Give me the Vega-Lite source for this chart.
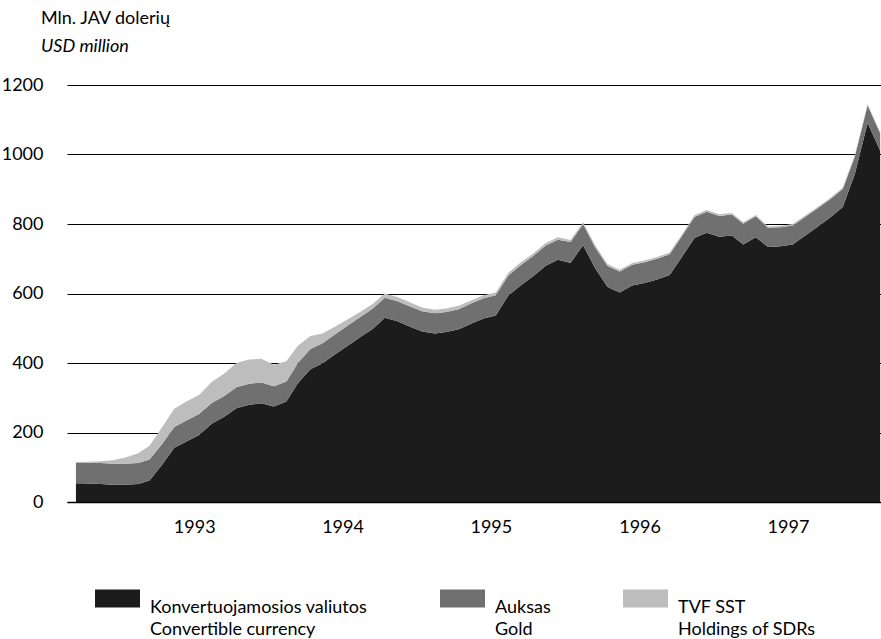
{
  "$schema": "https://vega.github.io/schema/vega-lite/v6.json",
  "width": 814,
  "height": 417,
  "autosize": {"type": "none"},
  "padding": {"left": 67, "top": 85, "right": 0, "bottom": 137},
  "background": "white",
  "config": {
    "font": "Lato",
    "view": {"stroke": null},
    "style": {"guide-label": {"lineHeight": 22}}
  },
  "title": {
    "text": "Mln. JAV dolerių",
    "subtitle": "USD million",
    "anchor": "start",
    "frame": "group",
    "dx": -26,
    "offset": 20,
    "font": "Lato",
    "fontSize": 18,
    "fontWeight": "normal",
    "color": "black",
    "subtitleFont": "Lato",
    "subtitleFontSize": 18,
    "subtitleFontStyle": "italic",
    "subtitleColor": "black",
    "subtitlePadding": 10
  },
  "data": {
    "values": [
      {"date": "1992-09-01", "Konvertuojamosios valiutos": 54, "Auksas": 60, "TVF SST": 1},
      {"date": "1992-10-01", "Konvertuojamosios valiutos": 53, "Auksas": 60, "TVF SST": 3},
      {"date": "1992-11-01", "Konvertuojamosios valiutos": 52, "Auksas": 60, "TVF SST": 5},
      {"date": "1992-12-01", "Konvertuojamosios valiutos": 50, "Auksas": 60, "TVF SST": 10},
      {"date": "1993-01-01", "Konvertuojamosios valiutos": 50, "Auksas": 60, "TVF SST": 18},
      {"date": "1993-02-01", "Konvertuojamosios valiutos": 52, "Auksas": 60, "TVF SST": 28},
      {"date": "1993-03-01", "Konvertuojamosios valiutos": 62, "Auksas": 60, "TVF SST": 40},
      {"date": "1993-04-01", "Konvertuojamosios valiutos": 107, "Auksas": 60, "TVF SST": 48},
      {"date": "1993-05-01", "Konvertuojamosios valiutos": 156, "Auksas": 60, "TVF SST": 52},
      {"date": "1993-06-01", "Konvertuojamosios valiutos": 175, "Auksas": 60, "TVF SST": 55},
      {"date": "1993-07-01", "Konvertuojamosios valiutos": 193, "Auksas": 60, "TVF SST": 55},
      {"date": "1993-08-01", "Konvertuojamosios valiutos": 225, "Auksas": 60, "TVF SST": 60},
      {"date": "1993-09-01", "Konvertuojamosios valiutos": 245, "Auksas": 60, "TVF SST": 65},
      {"date": "1993-10-01", "Konvertuojamosios valiutos": 270, "Auksas": 60, "TVF SST": 70},
      {"date": "1993-11-01", "Konvertuojamosios valiutos": 280, "Auksas": 60, "TVF SST": 70},
      {"date": "1993-12-01", "Konvertuojamosios valiutos": 284, "Auksas": 60, "TVF SST": 68},
      {"date": "1994-01-01", "Konvertuojamosios valiutos": 275, "Auksas": 58, "TVF SST": 62},
      {"date": "1994-02-01", "Konvertuojamosios valiutos": 289, "Auksas": 58, "TVF SST": 58},
      {"date": "1994-03-01", "Konvertuojamosios valiutos": 342, "Auksas": 58, "TVF SST": 50},
      {"date": "1994-04-01", "Konvertuojamosios valiutos": 382, "Auksas": 58, "TVF SST": 38},
      {"date": "1994-05-01", "Konvertuojamosios valiutos": 399, "Auksas": 58, "TVF SST": 28},
      {"date": "1994-06-01", "Konvertuojamosios valiutos": 425, "Auksas": 58, "TVF SST": 22},
      {"date": "1994-07-01", "Konvertuojamosios valiutos": 449, "Auksas": 58, "TVF SST": 18},
      {"date": "1994-08-01", "Konvertuojamosios valiutos": 474, "Auksas": 58, "TVF SST": 15},
      {"date": "1994-09-01", "Konvertuojamosios valiutos": 498, "Auksas": 58, "TVF SST": 14},
      {"date": "1994-10-01", "Konvertuojamosios valiutos": 530, "Auksas": 58, "TVF SST": 12},
      {"date": "1994-11-01", "Konvertuojamosios valiutos": 520, "Auksas": 58, "TVF SST": 12},
      {"date": "1994-12-01", "Konvertuojamosios valiutos": 505, "Auksas": 58, "TVF SST": 12},
      {"date": "1995-01-01", "Konvertuojamosios valiutos": 491, "Auksas": 58, "TVF SST": 11},
      {"date": "1995-02-01", "Konvertuojamosios valiutos": 485, "Auksas": 58, "TVF SST": 10},
      {"date": "1995-03-01", "Konvertuojamosios valiutos": 489, "Auksas": 58, "TVF SST": 10},
      {"date": "1995-04-01", "Konvertuojamosios valiutos": 497, "Auksas": 58, "TVF SST": 10},
      {"date": "1995-05-01", "Konvertuojamosios valiutos": 513, "Auksas": 58, "TVF SST": 9},
      {"date": "1995-06-01", "Konvertuojamosios valiutos": 528, "Auksas": 58, "TVF SST": 9},
      {"date": "1995-07-01", "Konvertuojamosios valiutos": 537, "Auksas": 58, "TVF SST": 8},
      {"date": "1995-08-01", "Konvertuojamosios valiutos": 594, "Auksas": 58, "TVF SST": 8},
      {"date": "1995-09-01", "Konvertuojamosios valiutos": 624, "Auksas": 58, "TVF SST": 8},
      {"date": "1995-10-01", "Konvertuojamosios valiutos": 650, "Auksas": 58, "TVF SST": 7},
      {"date": "1995-11-01", "Konvertuojamosios valiutos": 680, "Auksas": 58, "TVF SST": 7},
      {"date": "1995-12-01", "Konvertuojamosios valiutos": 697, "Auksas": 58, "TVF SST": 7},
      {"date": "1996-01-01", "Konvertuojamosios valiutos": 688, "Auksas": 60, "TVF SST": 6},
      {"date": "1996-02-01", "Konvertuojamosios valiutos": 739, "Auksas": 60, "TVF SST": 6},
      {"date": "1996-03-01", "Konvertuojamosios valiutos": 674, "Auksas": 60, "TVF SST": 6},
      {"date": "1996-04-01", "Konvertuojamosios valiutos": 619, "Auksas": 60, "TVF SST": 6},
      {"date": "1996-05-01", "Konvertuojamosios valiutos": 603, "Auksas": 60, "TVF SST": 5},
      {"date": "1996-06-01", "Konvertuojamosios valiutos": 623, "Auksas": 60, "TVF SST": 5},
      {"date": "1996-07-01", "Konvertuojamosios valiutos": 630, "Auksas": 60, "TVF SST": 5},
      {"date": "1996-08-01", "Konvertuojamosios valiutos": 640, "Auksas": 60, "TVF SST": 5},
      {"date": "1996-09-01", "Konvertuojamosios valiutos": 653, "Auksas": 60, "TVF SST": 5},
      {"date": "1996-10-01", "Konvertuojamosios valiutos": 705, "Auksas": 60, "TVF SST": 5},
      {"date": "1996-11-01", "Konvertuojamosios valiutos": 760, "Auksas": 60, "TVF SST": 5},
      {"date": "1996-12-01", "Konvertuojamosios valiutos": 775, "Auksas": 60, "TVF SST": 5},
      {"date": "1997-01-01", "Konvertuojamosios valiutos": 763, "Auksas": 60, "TVF SST": 5},
      {"date": "1997-02-01", "Konvertuojamosios valiutos": 767, "Auksas": 60, "TVF SST": 5},
      {"date": "1997-03-01", "Konvertuojamosios valiutos": 741, "Auksas": 60, "TVF SST": 4},
      {"date": "1997-04-01", "Konvertuojamosios valiutos": 762, "Auksas": 60, "TVF SST": 4},
      {"date": "1997-05-01", "Konvertuojamosios valiutos": 734, "Auksas": 55, "TVF SST": 4},
      {"date": "1997-06-01", "Konvertuojamosios valiutos": 736, "Auksas": 55, "TVF SST": 4},
      {"date": "1997-07-01", "Konvertuojamosios valiutos": 741, "Auksas": 55, "TVF SST": 4},
      {"date": "1997-08-01", "Konvertuojamosios valiutos": 767, "Auksas": 54, "TVF SST": 4},
      {"date": "1997-09-01", "Konvertuojamosios valiutos": 793, "Auksas": 53, "TVF SST": 4},
      {"date": "1997-10-01", "Konvertuojamosios valiutos": 819, "Auksas": 52, "TVF SST": 4},
      {"date": "1997-11-01", "Konvertuojamosios valiutos": 849, "Auksas": 52, "TVF SST": 4},
      {"date": "1997-12-01", "Konvertuojamosios valiutos": 945, "Auksas": 51, "TVF SST": 4},
      {"date": "1998-01-01", "Konvertuojamosios valiutos": 1091, "Auksas": 50, "TVF SST": 4},
      {"date": "1998-02-01", "Konvertuojamosios valiutos": 1011, "Auksas": 50, "TVF SST": 4}
    ]
  },
  "transform": [
    {"fold": ["Konvertuojamosios valiutos", "Auksas", "TVF SST"], "as": ["series", "value"]},
    {"calculate": "indexof(['Konvertuojamosios valiutos','Auksas','TVF SST'], datum.series)", "as": "ord"}
  ],
  "mark": {"type": "area", "interpolate": "linear"},
  "encoding": {
    "x": {
      "field": "date",
      "type": "temporal",
      "scale": {"domain": [{"year": 1992, "month": 8, "date": 10, "utc": true}, {"year": 1998, "month": 2, "date": 3, "utc": true}]},
      "axis": {
        "values": [
          {"year": 1993, "month": 6, "date": 19, "utc": true},
          {"year": 1994, "month": 6, "date": 19, "utc": true},
          {"year": 1995, "month": 6, "date": 19, "utc": true},
          {"year": 1996, "month": 6, "date": 19, "utc": true},
          {"year": 1997, "month": 6, "date": 19, "utc": true}
        ],
        "format": "%Y",
        "title": null,
        "ticks": false,
        "domain": true,
        "domainColor": "black",
        "domainWidth": 1.5,
        "grid": false,
        "labelFont": "Lato",
        "labelFontSize": 18,
        "labelColor": "black",
        "labelPadding": 16
      }
    },
    "y": {
      "field": "value",
      "type": "quantitative",
      "stack": "zero",
      "scale": {"domain": [0, 1200], "nice": false},
      "axis": {
        "values": [0, 200, 400, 600, 800, 1000, 1200],
        "format": "d",
        "title": null,
        "ticks": false,
        "domain": false,
        "grid": true,
        "gridColor": "black",
        "gridWidth": 1,
        "gridOpacity": 1,
        "labelFont": "Lato",
        "labelFontSize": 18,
        "labelColor": "black",
        "labelPadding": 24
      }
    },
    "order": {"field": "ord", "type": "quantitative", "sort": "ascending"},
    "color": {
      "field": "series",
      "type": "nominal",
      "scale": {
        "domain": ["Konvertuojamosios valiutos", "Auksas", "TVF SST"],
        "range": ["#1c1c1c", "#707070", "#bdbdbd"]
      },
      "legend": {
        "title": null,
        "orient": "none",
        "legendX": 28,
        "legendY": 491,
        "direction": "horizontal",
        "gridAlign": "none",
        "columnPadding": 72,
        "symbolType": "M-1,-0.4H1V0.4H-1Z",
        "symbolSize": 2025,
        "symbolStrokeWidth": 0,
        "labelFont": "Lato",
        "labelFontSize": 18,
        "labelColor": "black",
        "labelOffset": 10,
        "labelLimit": 400,
        "labelBaseline": "top",
        "labelExpr": "datum.label == 'Konvertuojamosios valiutos' ? ['Konvertuojamosios valiutos', 'Convertible currency'] : datum.label == 'Auksas' ? ['Auksas', 'Gold'] : ['TVF SST', 'Holdings of SDRs']"
      }
    }
  }
}
